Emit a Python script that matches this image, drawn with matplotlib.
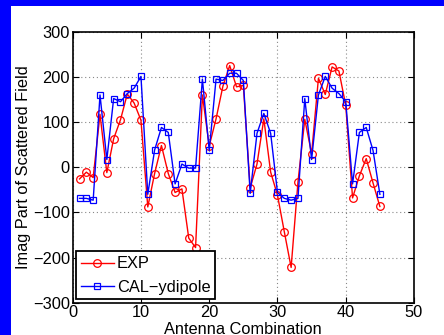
import matplotlib
matplotlib.use("Agg")
import matplotlib.pyplot as plt
from matplotlib.patches import Rectangle

x = list(range(1, 46))
exp_vals = [-26, -11, -23, 117, -12, 63, 105, 162, 142, 104,
            -88, -14, 48, -14, -56, -48, -157, -178, 160, 47,
            107, 179, 225, 178, 181, -46, 7, 107, -11, -62,
            -143, -222, -33, 106, 30, 197, 161, 222, 213, 137,
            -68, -19, 19, -35, -87]
cal_vals = [-69, -69, -73, 160, 17, 152, 145, 163, 175, 201,
            -60, 38, 88, 77, -37, 7, -2, -2, 195, 37,
            195, 192, 208, 208, 192, -58, 75, 119, 75, -56,
            -69, -73, -69, 152, 17, 160, 201, 175, 163, 145,
            -37, 77, 88, 37, -60]
xticks = [0, 10, 20, 30, 40, 50]
yticks = [-300, -200, -100, 0, 100, 200, 300]

FS = 11.8
plt.rcParams['font.family'] = ['Liberation Sans', 'DejaVu Sans']
fig = plt.figure(figsize=(4.44, 3.35), dpi=100)
fig.patch.set_facecolor((0, 0, 1))
fig.patches.append(Rectangle((11/444, 0), 1, (335-6)/335, transform=fig.transFigure,
                             facecolor='white', edgecolor='none', zorder=-1))
ax = fig.add_axes([72.7/444, (335-302.7)/335, (414-72.7)/444, (302.7-31.7)/335])
ax.plot(x, exp_vals, color='red', marker='o', markersize=5.5, markerfacecolor='none',
        markeredgecolor='red', markeredgewidth=0.9, linewidth=1.0, label='EXP')
ax.plot(x, cal_vals, color='blue', marker='s', markersize=4.5, markerfacecolor='none',
        markeredgecolor='blue', markeredgewidth=0.9, linewidth=1.0, label='CAL\u2212ydipole')
ax.set_xlim(0, 50)
ax.set_ylim(-300, 300)
ax.set_xticks(xticks)
ax.set_yticks(yticks)
ax.set_yticklabels([str(v).replace('-', '\u2212') for v in yticks])
ax.tick_params(direction='in', top=True, right=True, labelsize=FS, length=4, pad=2)
ax.grid(True, linestyle=(0, (1, 2.5)), color='#888888', linewidth=0.8)
for s in ax.spines.values():
    s.set_linewidth(1.2)
ax.set_xlabel('Antenna Combination', fontsize=FS, labelpad=1)
ax.set_ylabel('Imag Part of Scattered Field', fontsize=FS, labelpad=1)
leg = ax.legend(loc='lower left', fontsize=FS, fancybox=False, framealpha=1,
                edgecolor='black', borderaxespad=0.2, handlelength=2.0,
                handletextpad=0.2, borderpad=0.3, labelspacing=0.5)
leg.get_frame().set_linewidth(1.3)
fig.savefig('out.png', dpi=100, facecolor=fig.get_facecolor())
